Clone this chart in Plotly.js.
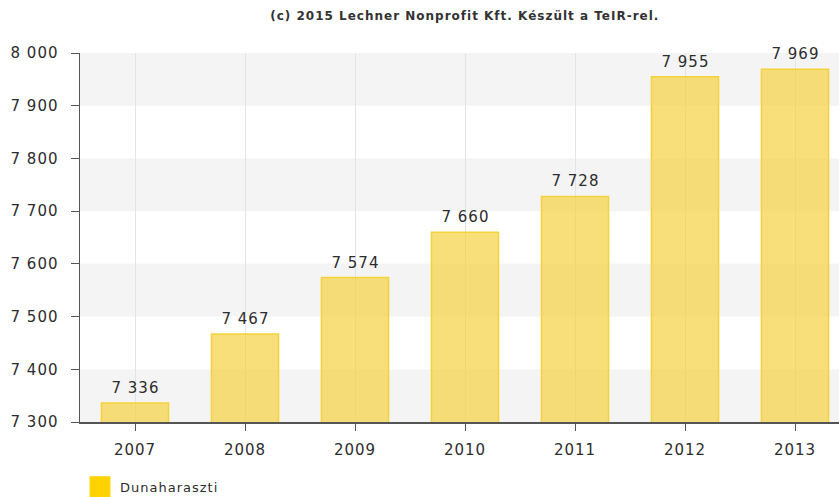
<!DOCTYPE html>
<html>
<head>
<meta charset="utf-8">
<script src="https://cdn.plot.ly/plotly-3.0.1.min.js"></script>
<style>
html,body{margin:0;padding:0;background:#fff;}
#chart{width:839px;height:497px;}
#chart svg text{letter-spacing:1px;}
</style>
</head>
<body>
<div id="chart"></div>
<script>
var years = ['2007', '2008', '2009', '2010', '2011', '2012', '2013'];
var population = [7336, 7467, 7574, 7660, 7728, 7955, 7969];
var seriesName = 'Dunaharaszti';
var yTicks = [7300, 7400, 7500, 7600, 7700, 7800, 7900, 8000];
var titleText = '(c) 2015 Lechner Nonprofit Kft. Készült a TeIR-rel.';

function fmt(v) { return String(v).replace(/\B(?=(\d{3})+(?!\d))/g, ' '); }

var font = 'DejaVu Sans, Verdana, sans-serif';

var bands = [];
for (var i = 0; i < yTicks.length - 1; i += 2) {
  bands.push({type: 'rect', xref: 'paper', yref: 'y', x0: 0, x1: 1,
    y0: yTicks[i], y1: yTicks[i + 1], fillcolor: '#f4f4f4', line: {width: 0}, layer: 'below'});
}

var labels = years.map(function (yr, i) {
  return {x: i, y: population[i], xref: 'x', yref: 'y', text: fmt(population[i]),
          showarrow: false, yanchor: 'middle', yshift: 15,
          font: {family: font, size: 15, color: '#2d2d2d'}};
});

var traces = [
  {type: 'bar', x: years, y: population, width: 0.61, showlegend: false,
   marker: {color: 'rgba(245,209,65,0.7)', line: {color: '#f3d23c', width: 1.5}},
   hoverinfo: 'x+y'},
  {type: 'scatter', mode: 'markers', x: [years[0]], y: [null], name: seriesName + '  ',
   marker: {symbol: 'square', size: 16, color: '#ffd200', line: {color: '#ffd200', width: 5}},
   showlegend: true}
];

var layout = {
  width: 839, height: 497,
  margin: {l: 80, r: 0, t: 53, b: 75, autoexpand: false},
  paper_bgcolor: '#fff', plot_bgcolor: '#fff',
  title: {text: titleText, x: 0.554, xanchor: 'center', y: 0.968, yanchor: 'middle',
          font: {family: font, size: 12, color: '#333', weight: 'bold'}},
  font: {family: font, color: '#2d2d2d'},
  barmode: 'overlay',
  xaxis: {type: 'category', range: [-0.5, 6.4], showline: true, linecolor: '#555', linewidth: 1.5,
          ticks: 'outside', ticklen: 7, tickcolor: '#555', showgrid: true, gridcolor: '#e4e4e4',
          ticklabelstandoff: 6, automargin: false,
          tickfont: {family: font, size: 15, color: '#2d2d2d'}, fixedrange: true},
  yaxis: {range: [7300, 8000], tickvals: yTicks, ticktext: yTicks.map(fmt), showline: true,
          linecolor: '#555', linewidth: 1.5, ticks: 'outside', ticklen: 8, tickcolor: '#555',
          ticklabelstandoff: 9, automargin: false,
          showgrid: false, zeroline: false, tickfont: {family: font, size: 15, color: '#2d2d2d'},
          fixedrange: true},
  shapes: bands,
  annotations: labels,
  showlegend: true,
  legend: {orientation: 'h', x: 0.0, xanchor: 'left', y: -0.135, yanchor: 'top',
           font: {family: font, size: 13, color: '#2d2d2d'}, itemwidth: 30}
};

Plotly.newPlot('chart', traces, layout, {displayModeBar: false, staticPlot: true});
</script>
</body>
</html>
